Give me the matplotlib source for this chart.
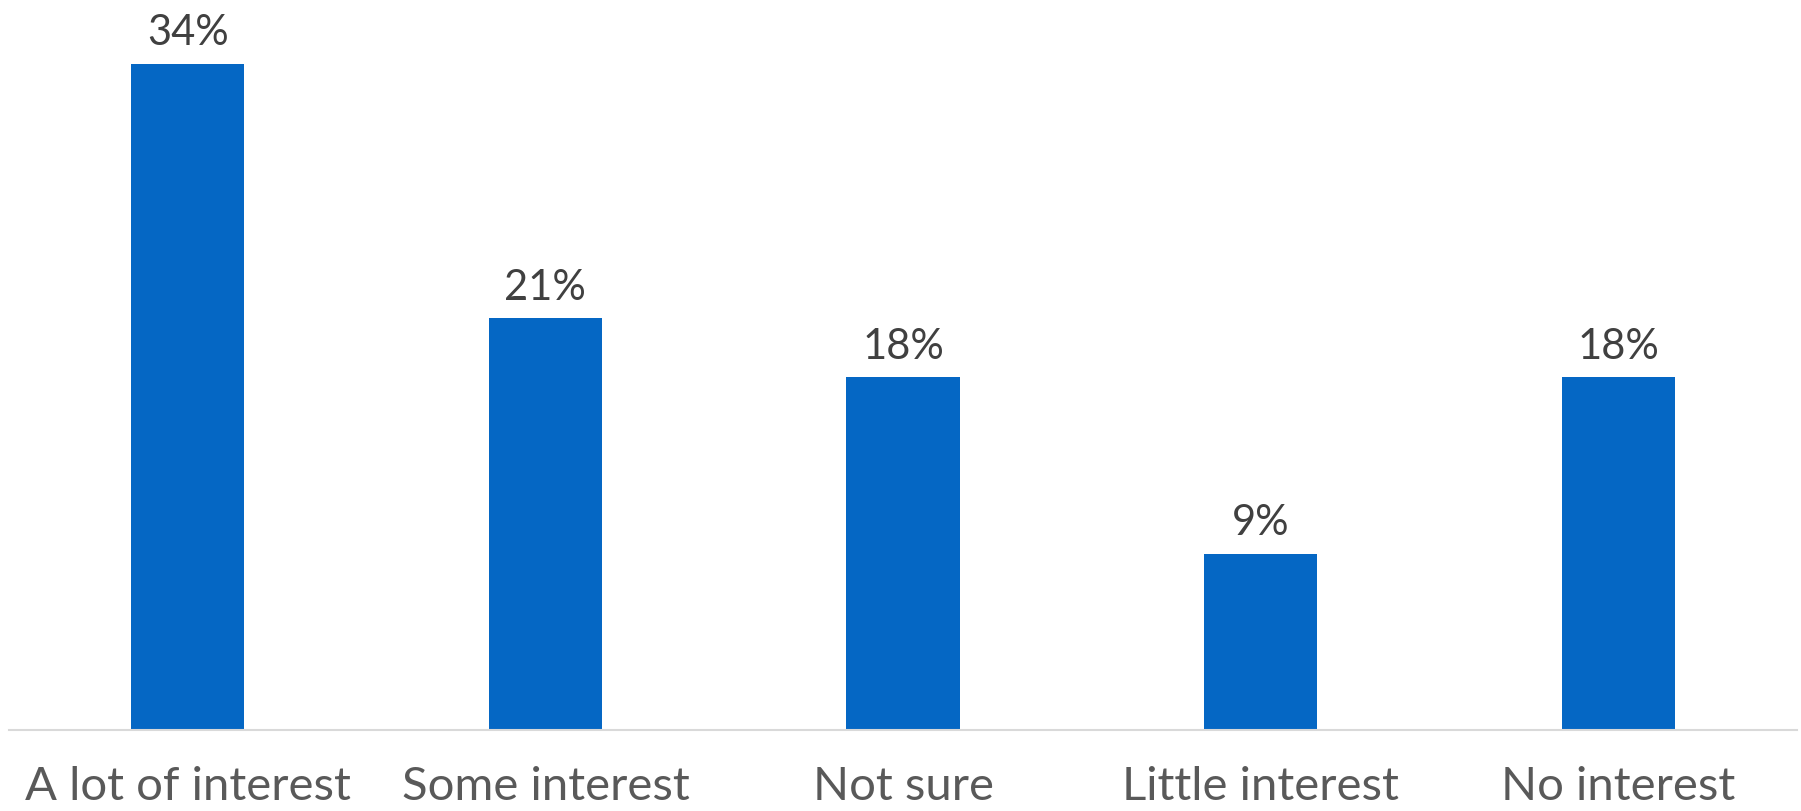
import matplotlib
matplotlib.use("Agg")
import matplotlib.pyplot as plt


# ---------------------------------------------------------
#  Survey results
# ---------------------------------------------------------

CATEGORIES = [
    "A lot of interest", "Some interest", "Not sure",
    "Little interest", "No interest"
]

SHARES = [34, 21, 18, 9, 18]

BAR_COLOUR = "#0567C4"
VALUE_COLOUR = "#404040"
LABEL_COLOUR = "#595959"
AXIS_COLOUR = "#D9D9D9"


# ---------------------------------------------------------
#  Visualisation
# ---------------------------------------------------------

def plot_interest_chart(categories: list[str], shares: list[int]) -> None:
    """Single-series column chart with percentage labels above each bar."""
    plt.rcParams["font.family"] = ["Lato", "DejaVu Sans"]

    fig = plt.figure(figsize=(18.01, 8.12), dpi=100)
    ax = fig.add_axes([9 / 1801, 81 / 812, 1788 / 1801, 731 / 812])

    x = list(range(len(categories)))
    ax.bar(x, shares, width=0.316, color=BAR_COLOUR, zorder=2)

    ax.set_xlim(-0.5, len(categories) - 0.5)
    ax.set_ylim(0, 37.3)

    for i, value in enumerate(shares):
        ax.annotate(f"{value}%", xy=(i, value), xytext=(0, 14),
                    textcoords="offset points", ha="center", va="baseline",
                    fontsize=30, color=VALUE_COLOUR)

    # category names sit under the baseline, keep descenders inside the canvas
    for i, name in enumerate(categories):
        ax.annotate(name, xy=(i, 0), xycoords=("data", "axes fraction"),
                    xytext=(0, -50), textcoords="offset points",
                    ha="center", va="baseline", fontsize=34,
                    color=LABEL_COLOUR)

    for side in ("top", "right", "left"):
        ax.spines[side].set_visible(False)
    ax.spines["bottom"].set_color(AXIS_COLOUR)
    ax.spines["bottom"].set_linewidth(1.5)
    ax.set_xticks([])
    ax.set_yticks([])

    fig.savefig("out.png", dpi=100, facecolor="white")


def main() -> None:
    plot_interest_chart(CATEGORIES, SHARES)


if __name__ == "__main__":
    main()
